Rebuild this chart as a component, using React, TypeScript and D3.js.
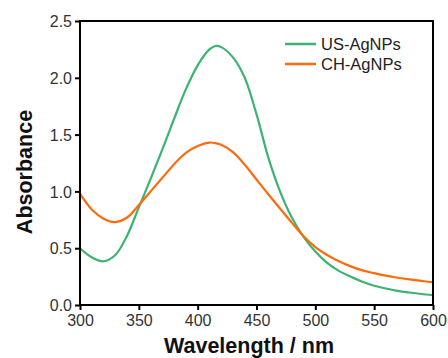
import React, { useRef, useEffect } from "react";
import * as d3 from "d3";

// wavelength grid (nm)
const wavelengths = [300, 310, 320, 330, 340, 350, 360, 370, 380, 390, 400, 410, 415, 420, 430, 440, 450, 460, 470, 480, 490, 500, 510, 520, 530, 540, 550, 560, 570, 580, 590, 600];

// US-AgNPs absorbance
const usAgNPs = [0.50, 0.42, 0.385, 0.44, 0.61, 0.86, 1.11, 1.37, 1.64, 1.90, 2.11, 2.25, 2.28, 2.27, 2.18, 2.00, 1.68, 1.30, 1.00, 0.77, 0.60, 0.47, 0.37, 0.30, 0.25, 0.205, 0.17, 0.145, 0.125, 0.11, 0.097, 0.087];

// CH-AgNPs absorbance
const chAgNPs = [0.98, 0.84, 0.76, 0.73, 0.77, 0.88, 1.00, 1.12, 1.24, 1.34, 1.40, 1.43, 1.425, 1.41, 1.345, 1.235, 1.105, 0.975, 0.85, 0.725, 0.605, 0.51, 0.44, 0.385, 0.34, 0.305, 0.28, 0.258, 0.24, 0.225, 0.212, 0.20];

const seriesNames = ["US-AgNPs", "CH-AgNPs"];
const seriesColors = ["#3cb371", "#ff6a0d"];

const xTicks = [300, 350, 400, 450, 500, 550, 600];
const yTicks = [0, 0.5, 1.0, 1.5, 2.0, 2.5];

export default function App() {
    const ref = useRef<SVGSVGElement>(null);

    useEffect(() => {
        if (!ref.current) return;
        const svg = d3.select(ref.current);
        svg.selectAll("*").remove();

        const margin = { top: 21, right: 15, bottom: 53, left: 80 };
        const width = 448, height = 358;
        const innerW = width - margin.left - margin.right;
        const innerH = height - margin.top - margin.bottom;

        const x = d3.scaleLinear().domain([300, 600]).range([0, innerW]);
        const y = d3.scaleLinear().domain([0, 2.5]).range([innerH, 0]);

        const g = svg.append("g").attr("transform", `translate(${margin.left},${margin.top})`);

        const font = "Liberation Sans, Arial, sans-serif";

        // spectra
        const line = d3.line<number>()
            .x((_, i) => x(wavelengths[i]))
            .y(d => y(d))
            .curve(d3.curveCatmullRom.alpha(0.5));

        [usAgNPs, chAgNPs].forEach((vals, i) => {
            g.append("path")
                .attr("d", line(vals))
                .attr("fill", "none")
                .attr("stroke", seriesColors[i])
                .attr("stroke-width", 2.2);
        });

        // frame
        g.append("rect")
            .attr("x", 0).attr("y", 0)
            .attr("width", innerW).attr("height", innerH)
            .attr("fill", "none")
            .attr("stroke", "#000")
            .attr("stroke-width", 2);

        // axes
        const xAxis = g.append("g")
            .attr("transform", `translate(0,${innerH})`)
            .call(d3.axisBottom(x).tickValues(xTicks).tickSize(5).tickPadding(5).tickFormat(d3.format("d")));
        const yAxis = g.append("g")
            .call(d3.axisLeft(y).tickValues(yTicks).tickSize(5).tickPadding(3).tickFormat(d3.format(".1f")));

        [xAxis, yAxis].forEach(ax => {
            ax.select(".domain").remove();
            ax.selectAll("line").attr("stroke", "#000").attr("stroke-width", 2);
            ax.selectAll("text")
                .attr("fill", "#333")
                .attr("font-size", 16)
                .attr("font-family", font);
        });
        yAxis.selectAll("text").attr("dy", "0.36em");

        // axis titles
        svg.append("text")
            .attr("x", 249).attr("y", 353)
            .attr("text-anchor", "middle")
            .attr("font-family", font)
            .attr("font-size", 21.5)
            .attr("font-weight", "bold")
            .attr("fill", "#111")
            .text("Wavelength / nm");

        svg.append("text")
            .attr("transform", `translate(32,172) rotate(-90)`)
            .attr("text-anchor", "middle")
            .attr("font-family", font)
            .attr("font-size", 21.5)
            .attr("font-weight", "bold")
            .attr("fill", "#111")
            .text("Absorbance");

        // legend
        const legend = svg.append("g");
        seriesNames.forEach((name, i) => {
            const ly = 44 + i * 20;
            legend.append("line")
                .attr("x1", 285).attr("x2", 316)
                .attr("y1", ly).attr("y2", ly)
                .attr("stroke", seriesColors[i])
                .attr("stroke-width", 2.5);
            legend.append("text")
                .attr("x", 321).attr("y", ly + 5.7)
                .attr("font-family", font)
                .attr("font-size", 16.5)
                .attr("fill", "#222")
                .text(name);
        });
    }, []);

    return (
        <svg
            ref={ref}
            width={448}
            height={358}
            style={{ position: "absolute", left: 0, top: 0, background: "#fff" }}
        />
    );
}
